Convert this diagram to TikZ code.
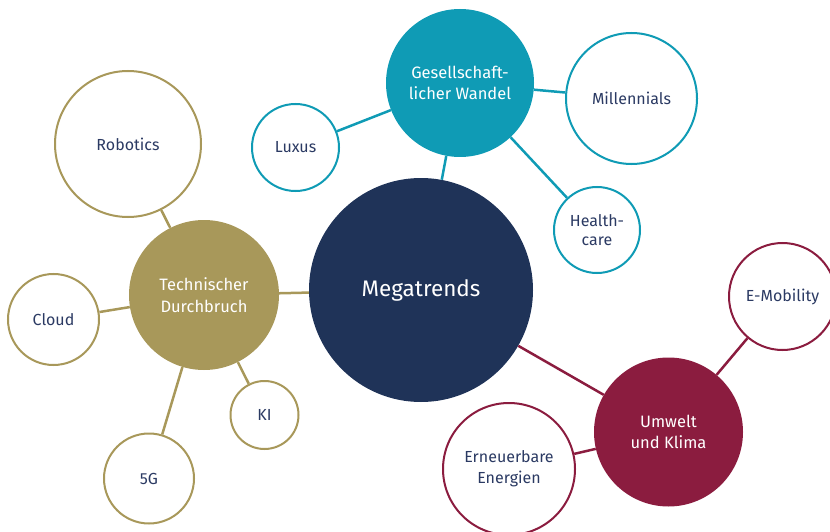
\documentclass[tikz,border=0pt]{standalone}
\usepackage{fontspec}
\setmainfont{Fira Sans}
\definecolor{navy}{HTML}{1F3358}
\definecolor{txt}{HTML}{2B3A63}
\definecolor{teal}{HTML}{0F9BB5}
\definecolor{gold}{HTML}{A8985A}
\definecolor{maroon}{HTML}{8B1C3F}
\tikzset{
  hub/.style={circle, inner sep=0pt, align=center, text=white, font=\fontsize{16.5}{21.5}\selectfont},
  leaf/.style={circle, inner sep=0pt, align=center, fill=white, text=txt, draw=#1, line width=2pt, font=\fontsize{16}{20}\selectfont},
  link/.style={draw=#1, line width=2.5pt}
}
\begin{document}
\begin{tikzpicture}[x=1pt,y=-1pt]
\useasboundingbox (0,0) rectangle (830,532);
% hubs
\node[hub, fill=navy, minimum size=224pt, font=\fontsize{22.5}{26}\selectfont] (mega) at (421,290) {Megatrends};
\node[hub, fill=teal, minimum size=148pt] (ges) at (460,83) {Gesellschaft-\\licher Wandel};
\node[hub, fill=gold, minimum size=150pt] (tech) at (204,295) {Technischer\\Durchbruch};
\node[hub, fill=maroon, minimum size=149pt] (umw) at (668.5,432) {Umwelt\\und Klima};
% leaves
\node[leaf=teal, minimum size=131pt] (mill) at (631.5,98.5) {Millennials};
\node[leaf=teal, minimum size=87pt] (lux) at (295.5,147.5) {Luxus};
\node[leaf=teal, minimum size=86pt, font=\fontsize{16}{18.5}\selectfont] (health) at (597,230) {Health-\\care};
\node[leaf=gold, minimum size=146pt] (robo) at (128,144) {Robotics};
\node[leaf=gold, minimum size=91pt] (cloud) at (53.5,319.5) {Cloud};
\node[leaf=gold, minimum size=90pt] (fiveg) at (149,478.5) {5G};
\node[leaf=gold, minimum size=68pt] (ki) at (264.5,415) {KI};
\node[leaf=maroon, minimum size=107pt] (emob) at (782.5,296.5) {E-Mobility};
\node[leaf=maroon, minimum size=132pt, font=\fontsize{16}{21}\selectfont] (ern) at (509,469) {Erneuerbare\\Energien};
% connectors
\draw[link=teal] (ges) -- (mega);
\draw[link=teal] (ges) -- (mill);
\draw[link=teal] (ges) -- (lux);
\draw[link=teal] (ges) -- (health);
\draw[link=gold] (tech) -- (mega);
\draw[link=gold] (tech) -- (robo);
\draw[link=gold] (tech) -- (cloud);
\draw[link=gold] (tech) -- (fiveg);
\draw[link=gold] (tech) -- (ki);
\draw[link=maroon] (umw) -- (mega);
\draw[link=maroon] (umw) -- (emob);
\draw[link=maroon] (umw) -- (ern);
\end{tikzpicture}
\end{document}
